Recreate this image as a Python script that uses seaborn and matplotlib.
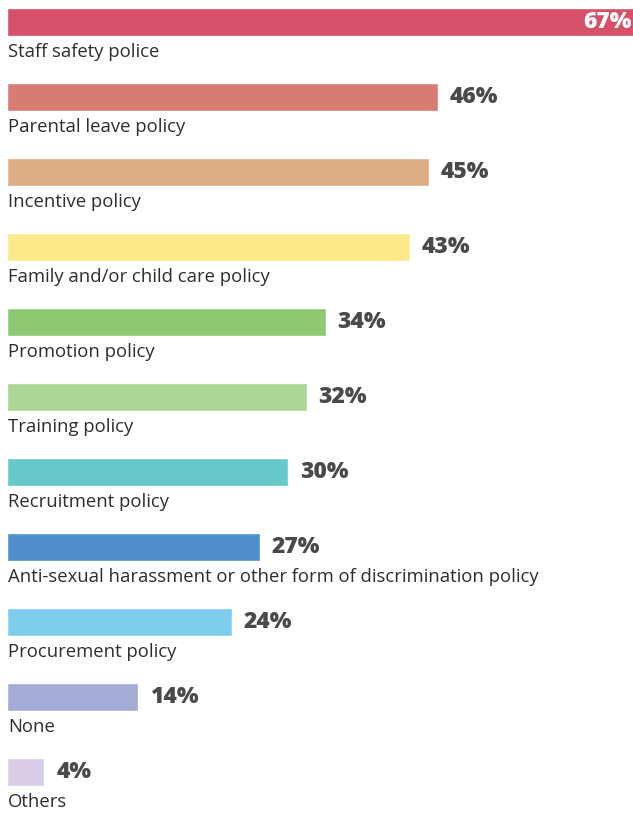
import matplotlib
matplotlib.use("Agg")
import matplotlib.pyplot as plt
import seaborn as sns
import pandas as pd

categories = [
    "Staff safety police",
    "Parental leave policy",
    "Incentive policy",
    "Family and/or child care policy",
    "Promotion policy",
    "Training policy",
    "Recruitment policy",
    "Anti-sexual harassment or other form of discrimination policy",
    "Procurement policy",
    "None",
    "Others",
]
values = [67, 46, 45, 43, 34, 32, 30, 27, 24, 14, 4]
colors = [
    "#D6506A", "#D87B72", "#DDAE84", "#FCE98A", "#8DC872", "#ABD695",
    "#67C8C9", "#4F8FCB", "#7ECDED", "#A3ABD6", "#D9CCE6",
]

df = pd.DataFrame({"category": categories, "value": values})

sns.set_theme(style="white")
plt.rcParams["font.family"] = ["Open Sans", "DejaVu Sans"]

fig = plt.figure(figsize=(6.33, 8.13), dpi=100)
ax = fig.add_axes([0, 0, 1, 1])

sns.barplot(
    data=df, y="category", x="value", hue="category", palette=colors,
    orient="h", width=0.38, legend=False, ax=ax, saturation=1,
)

px = 9.37  # pixels per percentage point
ax.set_xlim(-7 / px, 626 / px)
ax.set_ylim((813 - 22) / 75, -22 / 75)
ax.axis("off")

for i, (cat, v) in enumerate(zip(categories, values)):
    ax.text(0.1, i + 0.4, cat, ha="left", va="center",
            fontsize=13.3, color="#2e2e2e")
    if v >= 60:
        ax.text(v - 0.3, i, f"{v}%", ha="right", va="center",
                fontsize=16.5, fontweight="heavy", color="white")
    else:
        ax.text(v + 1.25, i, f"{v}%", ha="left", va="center",
                fontsize=16.5, fontweight="heavy", color="#4a4a4a")

fig.savefig("out.png", dpi=100)
